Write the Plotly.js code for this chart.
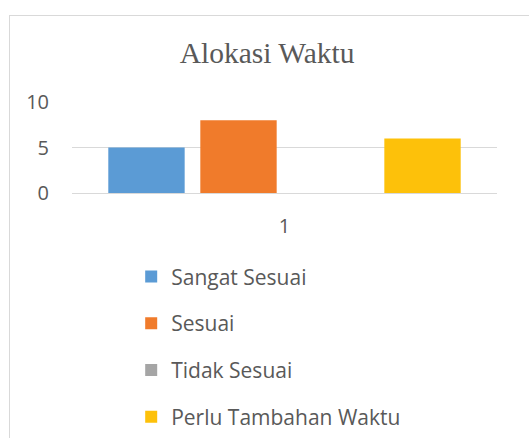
<!DOCTYPE html>
<html><head><meta charset="utf-8">
<script src="https://cdn.plot.ly/plotly-3.0.1.min.js"></script>
<style>
body{margin:0;background:#fff;}
#chart{position:absolute;left:0;top:0;width:529px;height:438px;}
#frame{position:absolute;left:9px;top:15px;width:540px;height:440px;border:1px solid #d9d9d9;pointer-events:none;z-index:10;}
</style></head>
<body>
<div id="chart"></div><div id="frame"></div>
<script>
const categories = ["1"];
const seriesNames = ["Sangat Sesuai", "Sesuai", "Tidak Sesuai", "Perlu Tambahan Waktu"];
const sangatSesuai = [5];
const sesuai = [8];
const tidakSesuai = [0];
const perluTambahan = [6];
const colors = ["#5B9BD5", "#F07B2B", "#A5A5A5", "#FDC10A"];
const values = [sangatSesuai, sesuai, tidakSesuai, perluTambahan];

const traces = values.map((v, i) => ({
  type: "bar", x: categories, y: v, name: seriesNames[i],
  marker: {color: colors[i]}, legendgroup: "g" + i, hoverinfo: "none"
}));

const layout = {
  width: 529, height: 438,
  margin: {l: 72, r: 32, t: 102, b: 245, autoexpand: false},
  paper_bgcolor: "rgba(0,0,0,0)", plot_bgcolor: "rgba(0,0,0,0)",
  title: {text: "Alokasi Waktu", font: {family: "Liberation Serif", size: 29.5, color: "#595959"},
          x: 0.505, xref: "container", xanchor: "center", y: 0.88, yref: "container", yanchor: "middle"},
  barmode: "group", bargap: 0.134, bargroupgap: 0.17,
  xaxis: {type: "category", showgrid: false, zeroline: false, showline: false, ticks: "", automargin: false,
          tickfont: {family: "Open Sans", size: 20, color: "#595959"}, ticklabelstandoff: 19},
  yaxis: {range: [0, 10], tickvals: [0, 5, 10], showgrid: true, gridcolor: "#d9d9d9", gridwidth: 1, automargin: false,
          zeroline: true, zerolinecolor: "#d9d9d9", showline: false, ticks: "",
          tickfont: {family: "Open Sans", size: 20, color: "#595959"}, ticklabelstandoff: 22},
  showlegend: true,
  legend: {orientation: "v", x: 0.248, xref: "container", xanchor: "left", y: 0.415, yref: "container", yanchor: "top",
           font: {family: "Open Sans", size: 21, color: "#595959"}, tracegroupgap: 16.5,
           traceorder: "grouped", itemwidth: 30, bgcolor: "rgba(0,0,0,0)"}
};
Plotly.newPlot("chart", traces, layout, {staticPlot: true});
</script>
</body></html>
